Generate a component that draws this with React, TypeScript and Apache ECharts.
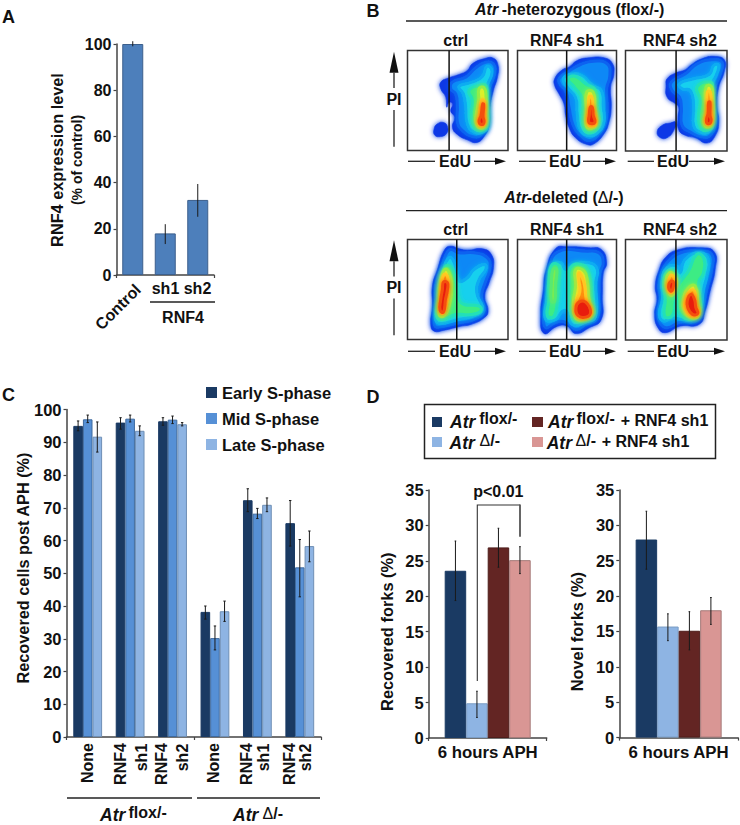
import React, { useEffect, useRef } from "react";
import * as echarts from "echarts";

const FONT = "'Liberation Sans', Arial, sans-serif";

// Panel A
const rnfCategories = ["Control", "sh1", "sh2"];
const rnfValues = [100, 18, 32.5];
const rnfLow = [99, 13.4, 25.2];
const rnfHigh = [101.2, 22, 39.4];

// Panel C
const sCategories = ["None", "RNF4 sh1", "RNF4 sh2", "None", "RNF4 sh1", "RNF4 sh2"];
const earlyValues = [95, 96, 96.4, 38.2, 72.3, 65.3];
const earlyLow = [93.5, 94, 95.2, 36, 68.8, 58.3];
const earlyHigh = [96.5, 97.5, 97.5, 40, 75.8, 72.2];
const midValues = [97, 97.2, 96.9, 30.2, 68.2, 51.8];
const midLow = [96, 96.2, 95.7, 26.6, 66.7, 42.8];
const midHigh = [98.3, 98.3, 98, 33.9, 69.8, 60.3];
const lateValues = [91.7, 93.5, 95.5, 38.4, 70.9, 58.3];
const lateLow = [87, 92, 95, 35.3, 68.8, 53.5];
const lateHigh = [96.2, 95, 96, 41.5, 73, 62.9];

// Panel D
const forkCategory = ["6 hours APH"];
const forkNames = ["Atr flox/-", "Atr Δ/-", "Atr flox/- + RNF4 sh1", "Atr Δ/- + RNF4 sh1"];
const recoveredValues = [23.6, 4.9, 26.9, 25.1];
const recoveredLow = [19.4, 2.9, 24.1, 23.2];
const recoveredHigh = [27.8, 6.6, 29.6, 27];
const novelValues = [28, 15.7, 15.1, 18];
const novelLow = [23.8, 13.7, 12.4, 16];
const novelHigh = [32, 17.5, 17.8, 19.8];

// Panel B: density contours, [level, outline]
const jetLevels = ["#0a38e6", "#0a88f6", "#18d0ee", "#3cec84", "#dcf02c", "#ff9010", "#e81c10", "#7cec50"];
const jetEdges = ["#0a38e6", "#0a62f0", "#10acf2", "#24e0b8", "#90ee48", "#ffc820", "#f45010", "#58ea70"];
type Contour = [number, number[][]];

const hetCtrl: Contour[] = [
  [0, [[135,92],[165,82],[190,70],[205,50],[240,35],[268,33],[282,55],[280,90],[268,130],[258,180],[255,235],[240,268],[218,286],[190,278],[160,262],[145,240],[152,210],[140,192],[146,170],[135,165],[128,180],[125,150],[110,125],[110,105]]],
  [0, [[90,245],[100,230],[118,226],[130,238],[128,258],[110,268],[92,264]]],
  [1, [[145,105],[185,90],[215,62],[245,45],[268,50],[272,80],[255,125],[245,180],[245,235],[228,265],[205,268],[175,250],[160,225],[160,180],[155,140],[140,125]]],
  [2, [[165,118],[205,105],[235,88],[248,58],[262,65],[262,85],[250,115],[250,150],[252,235],[235,255],[210,255],[190,230],[185,180],[178,140]]],
  [3, [[195,130],[225,115],[245,115],[248,160],[248,235],[230,250],[212,242],[202,205],[205,160]]],
  [4, [[225,125],[240,122],[246,150],[245,205],[245,230],[232,243],[218,232],[216,205],[224,160]]],
  [5, [[232,160],[240,160],[242,205],[242,228],[232,237],[222,226],[226,205]]],
  [6, [[236,170],[239,172],[237,208],[240,225],[232,232],[225,222],[231,205]]],
];
const hetSh1: Contour[] = [
  [0, [[122,95],[145,68],[165,60],[190,40],[225,32],[270,32],[295,48],[300,80],[290,120],[292,180],[285,225],[270,260],[240,290],[220,292],[185,272],[165,240],[155,205],[150,170],[135,140],[122,115]]],
  [1, [[135,95],[165,72],[200,52],[240,42],[280,50],[288,85],[278,125],[280,180],[275,225],[255,260],[228,280],[200,265],[178,235],[165,180],[155,130],[140,115]]],
  [2, [[148,95],[170,82],[205,85],[235,115],[262,130],[268,180],[270,225],[250,258],[225,265],[200,250],[190,200],[185,150],[160,120]]],
  [3, [[162,95],[185,88],[215,110],[245,130],[250,180],[255,230],[235,255],[212,248],[205,200],[205,155],[180,118]]],
  [4, [[218,135],[238,135],[243,180],[248,230],[232,243],[217,235],[218,190]]],
  [5, [[226,150],[234,150],[238,190],[246,228],[232,237],[222,228],[224,190]]],
  [6, [[229,180],[235,180],[238,205],[243,225],[230,229],[224,222],[226,205]]],
];
const hetSh2: Contour[] = [
  [0, [[135,95],[160,78],[190,68],[205,55],[240,35],[280,28],[308,40],[306,75],[290,120],[285,175],[290,225],[280,265],[255,288],[220,272],[190,265],[170,248],[168,210],[170,180],[160,170],[135,150],[132,115]]],
  [0, [[105,255],[120,235],[145,228],[160,225],[155,250],[135,272],[115,272]]],
  [1, [[148,105],[190,80],[225,50],[270,38],[300,45],[295,80],[278,125],[275,175],[280,225],[265,265],[240,270],[205,255],[180,235],[178,180],[172,150],[150,130]]],
  [2, [[172,110],[215,95],[262,82],[275,55],[290,55],[282,85],[268,115],[270,170],[275,225],[258,255],[235,255],[215,235],[215,180],[205,130],[180,125]]],
  [3, [[225,120],[265,105],[272,125],[272,230],[255,250],[235,240],[230,200],[235,160]]],
  [4, [[252,120],[268,118],[271,150],[271,225],[258,240],[246,228],[251,190]]],
  [5, [[256,135],[265,135],[267,190],[269,222],[258,233],[251,222],[256,190]]],
  [6, [[260,165],[264,165],[264,205],[267,222],[258,230],[253,220],[258,200]]],
];
const delCtrl: Contour[] = [
  [0, [[122,40],[140,30],[165,38],[190,42],[235,38],[262,55],[268,95],[255,140],[242,180],[252,225],[240,245],[200,265],[170,270],[120,282],[90,285],[80,265],[85,210],[85,150],[100,100]]],
  [1, [[128,50],[140,40],[165,50],[210,50],[250,65],[258,95],[245,135],[232,180],[240,225],[210,250],[165,260],[120,270],[95,272],[90,255],[95,190],[95,145],[110,100]]],
  [2, [[130,70],[142,65],[155,95],[165,135],[190,125],[210,100],[242,85],[245,100],[225,130],[218,170],[235,220],[205,240],[160,250],[110,262],[95,252],[100,190],[105,140],[120,95]]],
  [3, [[125,90],[142,95],[155,135],[165,190],[180,205],[225,210],[230,225],[200,235],[155,235],[115,250],[98,240],[103,190],[108,140]]],
  [4, [[122,100],[135,110],[142,150],[135,210],[118,240],[105,235],[106,190],[110,140]]],
  [5, [[120,115],[130,122],[132,155],[125,210],[115,232],[108,222],[110,190],[112,145]]],
  [6, [[118,138],[130,140],[130,160],[124,190],[118,228],[108,222],[110,190],[115,160]]],
];
const delSh1: Contour[] = [
  [0, [[125,37],[160,32],[225,35],[262,40],[278,80],[268,110],[265,180],[262,250],[225,275],[185,292],[160,270],[130,270],[90,292],[80,235],[88,160],[95,105]]],
  [1, [[130,48],[220,45],[255,50],[268,80],[258,110],[255,180],[250,245],[215,265],[185,280],[160,260],[125,258],[95,275],[90,235],[98,160],[105,105]]],
  [2, [[112,90],[140,80],[155,100],[180,85],[225,80],[250,100],[245,140],[245,240],[215,258],[175,265],[158,225],[145,225],[125,250],[95,250],[98,190],[105,130]]],
  [3, [[115,85],[135,90],[135,130],[130,190],[120,240],[100,238],[105,190],[105,130]]],
  [7, [[117,100],[128,100],[124,145],[122,195],[112,195],[112,145]]],
  [3, [[170,95],[200,85],[225,110],[235,200],[240,235],[210,255],[180,250],[168,205],[165,135]]],
  [4, [[185,100],[210,105],[220,135],[225,190],[235,230],[210,250],[185,245],[178,200],[185,150]]],
  [5, [[195,110],[205,125],[212,150],[218,195],[232,228],[210,245],[190,238],[185,205],[198,165],[195,130]]],
  [6, [[195,198],[215,198],[230,228],[215,243],[192,238],[186,215]]],
];
const delSh2: Contour[] = [
  [0, [[130,65],[165,42],[235,35],[278,48],[280,100],[265,165],[250,225],[232,265],[175,270],[130,290],[108,275],[98,235],[105,190],[100,150],[112,100]]],
  [1, [[135,80],[170,52],[235,45],[270,55],[270,100],[255,160],[240,225],[225,255],[175,258],[135,275],[115,262],[108,230],[115,185],[110,150],[120,105]]],
  [2, [[135,95],[165,90],[175,110],[190,70],[235,50],[260,70],[255,120],[245,160],[235,225],[215,250],[178,250],[150,245],[125,255],[112,235],[122,185],[120,135]]],
  [3, [[138,105],[160,110],[165,150],[160,200],[150,240],[128,240],[130,190],[125,140]]],
  [3, [[185,125],[200,105],[225,55],[245,65],[245,110],[230,140],[235,225],[210,248],[180,240],[165,200],[170,150]]],
  [4, [[142,110],[158,118],[162,150],[150,178],[138,165],[132,140]]],
  [4, [[200,155],[220,150],[228,200],[232,235],[210,245],[188,225],[185,190]]],
  [5, [[146,118],[156,125],[158,150],[148,170],[138,155]]],
  [5, [[205,165],[218,165],[222,205],[230,232],[210,240],[192,222],[190,195]]],
  [6, [[148,135],[155,140],[152,160],[146,165],[140,150]]],
  [6, [[207,175],[218,190],[222,215],[228,232],[212,235],[198,215],[196,195]]],
];
const heatPanels = [hetCtrl, hetSh1, hetSh2, delCtrl, delSh1, delSh2];
const heatGates = [135, 158, 162, 158, 158, 162];
const heatTitles = ["ctrl", "RNF4 sh1", "RNF4 sh2", "ctrl", "RNF4 sh1", "RNF4 sh2"];

function txt(text: string, x: number, y: number, o: any = {}) {
  const size = o.size || 16;
  return {
    type: "text", x, y, rotation: o.rotation || 0, silent: true, z: 50,
    style: {
      text, fill: o.fill || "#111", fontFamily: FONT,
      fontSize: size, fontWeight: o.weight || "bold", fontStyle: o.italic ? "italic" : "normal",
      textAlign: o.align || "center", textVerticalAlign: "middle",
      rich: { d: { fontFamily: FONT, fontSize: size, fontWeight: "normal", fill: "#111" } },
    },
  };
}
function seg(x1: number, y1: number, x2: number, y2: number, w = 1.3, c = "#222") {
  return { type: "line", silent: true, z: 50, shape: { x1, y1, x2, y2 }, style: { stroke: c, lineWidth: w } };
}
function tri(points: number[][]) {
  return { type: "polygon", silent: true, z: 50, shape: { points }, style: { fill: "#111" } };
}
function atr(x: number, y: number, sup: string, supX: number, supY: number) {
  return [txt("Atr", x, y, { align: "left", italic: true, size: 17.5 }), txt(sup, supX + 1.5, supY, { align: "left", size: 16 })];
}

function errorSeries(idx: number, low: number[], high: number[], offsetIndex: number, count: number, barW: number, cap: number, name: string) {
  return {
    type: "custom", name, xAxisIndex: idx, yAxisIndex: idx, z: 5, silent: true,
    data: low.map((l, i) => [i, l, high[i]]),
    encode: { x: 0, y: [1, 2] },
    renderItem: (_p: any, api: any) => {
      const c = api.value(0);
      const off = (offsetIndex - (count - 1) / 2) * barW;
      const a = api.coord([c, api.value(1)]);
      const b = api.coord([c, api.value(2)]);
      const x = a[0] + off;
      const style = { stroke: "#1a1a1a", lineWidth: 1, fill: "none" };
      return {
        type: "group",
        children: [
          { type: "line", shape: { x1: x, y1: a[1], x2: x, y2: b[1] }, style },
          { type: "line", shape: { x1: x - cap, y1: a[1], x2: x + cap, y2: a[1] }, style },
          { type: "line", shape: { x1: x - cap, y1: b[1], x2: x + cap, y2: b[1] }, style },
        ],
      };
    },
  };
}
function barSeries(idx: number, name: string, values: number[], color: string, border: string, barW: number) {
  return {
    type: "bar", name, xAxisIndex: idx, yAxisIndex: idx, data: values, barWidth: barW, barGap: 0, z: 3, silent: true,
    itemStyle: { color, borderColor: border, borderWidth: 1 },
  };
}
function yAxis(idx: number, max: number, interval: number, size = 16.5) {
  return {
    type: "value", gridIndex: idx, min: 0, max, interval,
    splitLine: { show: false },
    axisLine: { show: true, lineStyle: { color: "#444", width: 1.5 } },
    axisTick: { show: true, length: 3, lineStyle: { color: "#444", width: 1.2 } },
    axisLabel: { color: "#111", fontFamily: FONT, fontWeight: "bold", fontSize: size, margin: 5 },
  };
}
function xAxis(idx: number, cats: string[], showLabel: boolean) {
  return {
    type: "category", gridIndex: idx, data: cats,
    axisLine: { show: true, lineStyle: { color: "#444", width: 1.5 } },
    axisTick: { show: true, length: 3, lineStyle: { color: "#444", width: 1.2 } },
    axisLabel: { show: showLabel, color: "#111", fontFamily: FONT, fontWeight: "bold", fontSize: 16.8, margin: 6 },
  };
}

export default function App() {
  const ref = useRef<HTMLDivElement>(null);
  useEffect(() => {
    const chart = echarts.init(ref.current!, undefined, { renderer: "svg" });

    const frames = [
      [407.5, 50.5, 100.5, 100],
      [517.5, 50.5, 99, 100],
      [625.5, 50.5, 101.5, 100.5],
      [407.5, 239.5, 100.5, 100],
      [517.5, 239.5, 99, 100],
      [625.5, 239.5, 101.5, 100.5],
    ];
    const ranges = [
      [10, 312, 10, 310], [10, 308, 10, 310], [10, 315, 10, 312],
      [10, 312, 10, 310], [10, 308, 10, 310], [10, 316, 10, 312],
    ];

    const grids: any[] = [
      { left: 116.5, top: 44, width: 97.5, height: 231 },
      { left: 66.5, top: 409.5, width: 254.5, height: 327.5 },
      { left: 428.7, top: 490, width: 118, height: 248 },
      { left: 619.3, top: 490, width: 118.7, height: 247.6 },
    ];
    const xAxes: any[] = [xAxis(0, rnfCategories, false), xAxis(1, sCategories, false), xAxis(2, forkCategory, true), xAxis(3, forkCategory, true)];
    const yAxes: any[] = [yAxis(0, 100, 20, 16), yAxis(1, 100, 10), yAxis(2, 35, 5), yAxis(3, 35, 5)];

    const series: any[] = [
      barSeries(0, "RNF4 expression", rnfValues, "#4d7fbb", "#3c5f8c", 21),
      errorSeries(0, rnfLow, rnfHigh, 0, 1, 21, 0, "RNF4 error"),
    ];
    const sColors = ["#1a3a63", "#5690d6", "#8eb4e3"];
    const sBorder = ["#1a3a63", "#3f6a9e", "#6f8fb5"];
    const sNames = ["Early S-phase", "Mid S-phase", "Late S-phase"];
    [earlyValues, midValues, lateValues].forEach((v, i) => series.push(barSeries(1, sNames[i], v, sColors[i], sBorder[i], 9.6)));
    [[earlyLow, earlyHigh], [midLow, midHigh], [lateLow, lateHigh]].forEach((e, i) =>
      series.push(errorSeries(1, e[0], e[1], i, 3, 9.6, 1.2, sNames[i] + " error")));

    const fColors = ["#1a3a63", "#8eb4e3", "#632523", "#d99694"];
    const fBorder = ["#1a3a63", "#7b9cc4", "#4e1d1b", "#a57a79"];
    [recoveredValues, novelValues].forEach((vals, p) => {
      vals.forEach((v, i) => series.push(barSeries(2 + p, forkNames[i], [v], fColors[i], fBorder[i], 21.5)));
      const low = p === 0 ? recoveredLow : novelLow;
      const high = p === 0 ? recoveredHigh : novelHigh;
      low.forEach((l, i) => series.push(errorSeries(2 + p, [l], [high[i]], i, 4, 21.5, 0.8, forkNames[i] + " error")));
    });

    heatPanels.forEach((contours, p) => {
      const g = 4 + p;
      const [left, top, width, height] = frames[p];
      const r = ranges[p];
      grids.push({ left, top, width, height, show: true, borderColor: "#333", borderWidth: 1.5, backgroundColor: "#fff" });
      xAxes.push({ type: "value", gridIndex: g, min: r[0], max: r[1], show: false, splitLine: { show: false } });
      yAxes.push({ type: "value", gridIndex: g, min: r[2], max: r[3], inverse: true, show: false, splitLine: { show: false } });
      series.push({
        type: "custom", name: "density " + p, xAxisIndex: g, yAxisIndex: g, silent: true, z: 2,
        data: contours.map((_, i) => [i]),
        encode: { x: -1, y: -1 },
        renderItem: (_q: any, api: any) => {
          const c = contours[api.value(0)];
          const fill = jetLevels[c[0]];
          const edge = jetEdges[c[0]];
          return {
            type: "polygon",
            shape: { points: c[1].map((pt) => api.coord(pt)), smooth: 0.5 },
            style: { fill, stroke: edge, lineWidth: c[0] === 0 ? 0.5 : 3, lineJoin: "round", shadowBlur: 5, shadowColor: edge },
          };
        },
      });
      series.push({
        type: "line", name: "gate " + p, xAxisIndex: g, yAxisIndex: g, silent: true, z: 6, symbol: "none",
        data: [[heatGates[p], r[2]], [heatGates[p], r[3]]],
        lineStyle: { color: "#111", width: 1.5 },
      });
    });

    const graphics: any[] = [
      txt("A", 8.5, 17, { size: 18 }), txt("B", 373, 11, { size: 18 }), txt("C", 8.5, 395, { size: 18 }), txt("D", 373, 397, { size: 18 }),
      // Panel A
      txt("RNF4 expression level", 57, 160, { rotation: Math.PI / 2, size: 16.3 }),
      txt("(% of control)", 77, 160, { rotation: Math.PI / 2, size: 14 }),
      txt(rnfCategories[0], 118, 307, { rotation: Math.PI / 4, size: 16 }),
      txt(rnfCategories[1], 165.5, 288), txt(rnfCategories[2], 197.5, 288),
      seg(150, 302, 215, 302), txt("RNF4", 183, 317),
      // Panel C
      txt("Recovered cells post APH (%)", 23.3, 568, { rotation: Math.PI / 2, size: 16.3 }),
      seg(67, 798, 192, 798), seg(197, 798, 320, 798),
      ...atr(100, 815, "flox/-", 127, 812.5), ...atr(233, 815, "{d|Δ}/-", 261, 813),
      // Panel D
      txt("Recovered forks (%)", 386.7, 631.7, { rotation: Math.PI / 2, size: 16.4 }),
      txt("Novel forks (%)", 577, 631.7, { rotation: Math.PI / 2, size: 16.4 }),
      txt("p<0.01", 498.3, 491.7),
      { type: "polyline", silent: true, z: 50, shape: { points: [[477.3, 681], [477.3, 505], [520, 505]] }, style: { stroke: "#333", lineWidth: 1.1, fill: "none" } },
      seg(520, 504.5, 520, 536.7, 1.8, "#555"),
      { type: "rect", silent: true, z: 40, shape: { x: 424.5, y: 404.5, width: 291, height: 54 }, style: { fill: "#fff", stroke: "#222", lineWidth: 1.5 } },
      { type: "rect", silent: true, z: 50, shape: { x: 432, y: 417, width: 10, height: 10 }, style: { fill: fColors[0] } },
      { type: "rect", silent: true, z: 50, shape: { x: 432, y: 437, width: 10, height: 10 }, style: { fill: fColors[1] } },
      { type: "rect", silent: true, z: 50, shape: { x: 532, y: 417, width: 11, height: 10 }, style: { fill: fColors[2] } },
      { type: "rect", silent: true, z: 50, shape: { x: 532, y: 437, width: 11, height: 10 }, style: { fill: fColors[3] } },
      ...atr(450, 421.7, "flox/-", 477.7, 418), ...atr(449.5, 442.7, "{d|Δ}/-", 478, 440.7),
      ...atr(548, 421.7, "flox/-", 575, 418), txt("+ RNF4 sh1", 620.7, 420.7, { align: "left" }),
      ...atr(546.7, 442.7, "{d|Δ}/-", 574, 440.7), txt("+ RNF4 sh1", 601.7, 441.7, { align: "left" }),
      // Panel B
      txt("Atr", 475, 9.5, { align: "left", italic: true }), txt("-heterozygous (flox/-)", 501.7, 9.5, { align: "left" }),
      seg(406, 21, 727, 21),
      txt("Atr", 504.3, 197.3, { align: "left", italic: true }), txt("-deleted ({d|Δ}/-)", 526.7, 197.3, { align: "left" }),
      seg(406, 210.7, 727, 210.7),
    ];
    const titleX = [455.7, 567, 680];
    const eduRows = [161.3, 351.3];
    const eduParts = [
      [408, 435, 455, 474, 495, 506],
      [519, 545.7, 565, 583, 605, 616],
      [627.7, 654, 673, 689, 714, 725],
    ];
    eduRows.forEach((y, r) => {
      titleX.forEach((x, i) => graphics.push(txt(heatTitles[r * 3 + i], x, r === 0 ? 40 : 229.3)));
      eduParts.forEach((e) => {
        graphics.push(seg(e[0], y, e[1], y), txt("EdU", e[2], y), seg(e[3], y, e[4], y), tri([[e[4], y - 3.5], [e[5], y], [e[4], y + 3.5]]));
      });
      const d = r === 0 ? 0 : 188.5;
      graphics.push(
        tri([[394, 51.7 + d], [389.5, 72.7 + d], [398.5, 72.7 + d]]),
        seg(394, 72.7 + d, 394, 88 + d),
        txt("PI", 394, 99 + d),
        seg(394, 110 + d, 394, 146.7 + d),
      );
    });
    const noneX = [87, 213.3];
    noneX.forEach((x) => graphics.push(txt("None", x, 763, { rotation: Math.PI / 2 })));
    [[120, 141.7, "sh1"], [161.7, 182.7, "sh2"], [246.7, 263.3, "sh1"], [289.3, 305, "sh2"]].forEach((g: any) => {
      graphics.push(txt("RNF4", g[0], 764, { rotation: Math.PI / 2 }), txt(g[2], g[1], 757.5, { rotation: Math.PI / 2 }));
    });

    chart.setOption({
      animation: false,
      backgroundColor: "#fff",
      tooltip: { show: false },
      grid: grids,
      xAxis: xAxes,
      yAxis: yAxes,
      series,
      legend: {
        data: sNames.map((name) => ({ name, icon: "rect", itemStyle: { borderWidth: 0 } })),
        orient: "vertical", left: 206, top: 384, padding: 0,
        itemWidth: 11, itemHeight: 11, itemGap: 9, selectedMode: false,
        textStyle: { fontFamily: FONT, fontWeight: "bold", fontSize: 16.5, color: "#111" },
      },
      graphic: graphics,
    });
    return () => chart.dispose();
  }, []);
  return <div ref={ref} style={{ position: "absolute", left: 0, top: 0, width: 740, height: 825 }} />;
}
